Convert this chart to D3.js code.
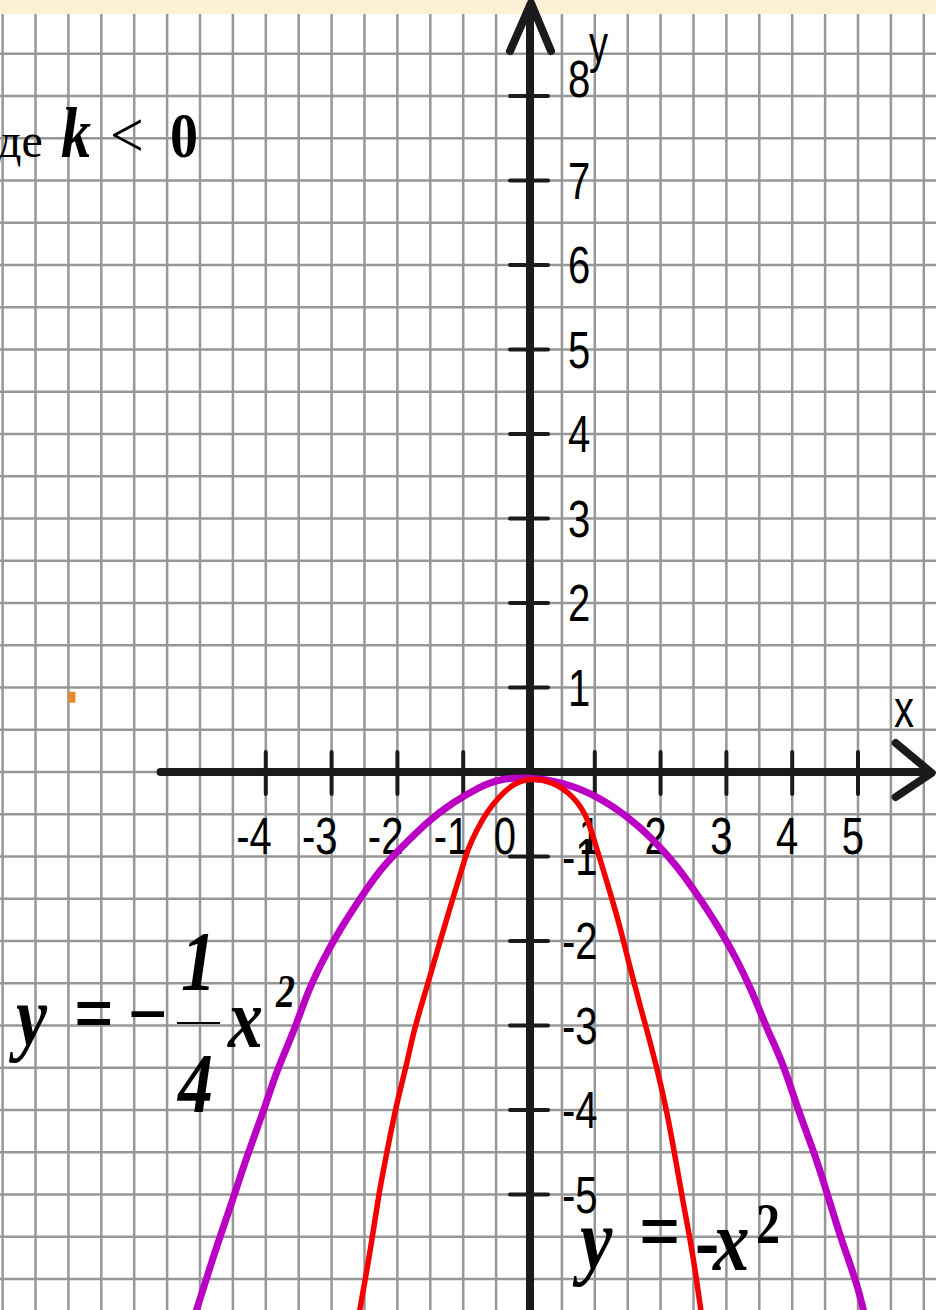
<!DOCTYPE html>
<html>
<head>
<meta charset="utf-8">
<script src="https://cdn.jsdelivr.net/npm/d3@7"></script>
<style>
  html, body { margin: 0; padding: 0; background: #fff; overflow: hidden; }
  svg { display: block; }
</style>
</head>
<body>
<script>
// tick values on the two axes (no tick mark at the origin)
const xTicks = [-4, -3, -2, -1, 1, 2, 3, 4, 5]
const xLabels = [-4, -3, -2, -1, 0, 1, 2, 3, 4, 5]
const yTicks = [-5, -4, -3, -2, -1, 1, 2, 3, 4, 5, 6, 7, 8]

// y = -1/4 x^2
const purpleX = [-5.05, -4.73, -4.50, -4.29, -4.04, -3.83, -3.56, -3.37, -3.13, -2.87, -2.57, -2.26, -1.96, -1.55, -1.16, -0.74, -0.44, 0,
  0.52, 1.03, 1.49, 1.88, 2.25, 2.60, 2.90, 3.16, 3.40, 3.62, 3.86, 4.07, 4.32, 4.53, 4.73, 4.98, 5.08]
const purpleY = [-6.36, -5.57, -5.06, -4.55, -4.03, -3.52, -3.05, -2.61, -2.22, -1.86, -1.50, -1.15, -0.91, -0.59, -0.36, -0.17, -0.08, -0.06,
  -0.12, -0.28, -0.52, -0.79, -1.11, -1.50, -1.86, -2.22, -2.61, -3.05, -3.44, -3.96, -4.47, -4.98, -5.50, -6.04, -6.36]

// y = -x^2
const redX = [-2.57, -2.39, -2.29, -2.16, -2.01, -1.85, -1.76, -1.55, -1.40, -1.25, -1.16, -1.02, -0.93, -0.79, -0.64, -0.44, -0.24, 0,
  0.36, 0.67, 0.88, 0.97, 1.08, 1.23, 1.38, 1.53, 1.69, 1.79, 1.95, 2.10, 2.22, 2.34, 2.48, 2.61]
const redY = [-6.36, -5.57, -5.02, -4.50, -3.91, -3.44, -3.08, -2.54, -2.13, -1.74, -1.50, -1.15, -0.91, -0.68, -0.47, -0.28, -0.14, -0.07,
  -0.11, -0.28, -0.52, -0.76, -1.03, -1.42, -1.82, -2.30, -2.77, -3.05, -3.52, -4.03, -4.55, -5.09, -5.65, -6.36]

// extent of the drawn axes
const xAxisExtent = [-5.6, 6.12]
const yAxisExtent = [-6.5, 9.1]
// stray orange dot
const dot = [-7.0, 0.95]

const width = 936
const height = 1310

const svg = d3.select('body').append('svg')
  .attr('width', width)
  .attr('height', height)

// one unit is 65.8 px across and 84.5 px up (the sheet is stretched)
const x = d3.scaleLinear().domain([0, 1]).range([529, 594.8])
const y = d3.scaleLinear().domain([0, 1]).range([772, 687.5])

svg.append('rect').attr('width', width).attr('height', height).attr('fill', '#fff')

// squared paper
const grid = svg.append('g').attr('stroke', '#979797').attr('stroke-width', 2.5)
grid.selectAll('.gv').data(d3.range(-8, 6.01, 0.5)).join('line')
  .attr('x1', d => x(d)).attr('x2', d => x(d))
  .attr('y1', 0).attr('y2', height)
grid.selectAll('.gh').data(d3.range(-6.5, 9.01, 0.5)).join('line')
  .attr('x1', 0).attr('x2', width)
  .attr('y1', d => y(d)).attr('y2', d => y(d))

// pale band at the top
svg.append('rect').attr('width', width).attr('height', 14).attr('fill', '#fdf1d5')

svg.append('rect')
  .attr('x', x(dot[0])).attr('y', y(dot[1]))
  .attr('width', 7).attr('height', 11)
  .attr('fill', '#e8892a')

// axes
const axes = svg.append('g')
  .attr('stroke', '#1b1b1b')
  .attr('stroke-linecap', 'round')
  .attr('fill', 'none')

axes.append('line')
  .attr('x1', x(xAxisExtent[0])).attr('x2', x(xAxisExtent[1]) - 3)
  .attr('y1', y(0)).attr('y2', y(0))
  .attr('stroke-width', 8)
axes.append('path')
  .attr('d', `M${x(xAxisExtent[1]) - 36},${y(0) - 29} L${x(xAxisExtent[1])},${y(0) + 1} L${x(xAxisExtent[1]) - 36},${y(0) + 25}`)
  .attr('stroke-width', 8).attr('stroke-linejoin', 'round')

axes.append('line')
  .attr('x1', x(0) + 1).attr('x2', x(0) + 1)
  .attr('y1', y(yAxisExtent[0])).attr('y2', y(yAxisExtent[1]) + 3)
  .attr('stroke-width', 8)
axes.append('path')
  .attr('d', `M${x(0) - 19},${y(yAxisExtent[1]) + 48} L${x(0) + 2},${y(yAxisExtent[1])} L${x(0) + 22},${y(yAxisExtent[1]) + 48}`)
  .attr('stroke-width', 8).attr('stroke-linejoin', 'round')

axes.selectAll('.xt').data(xTicks).join('line')
  .attr('x1', d => x(d)).attr('x2', d => x(d))
  .attr('y1', y(0) - 20).attr('y2', y(0) + 22)
  .attr('stroke-width', 4)
axes.selectAll('.yt').data(yTicks).join('line')
  .attr('x1', x(0) - 19).attr('x2', x(0) + 19)
  .attr('y1', d => y(d)).attr('y2', d => y(d))
  .attr('stroke-width', 4)

// stretched text helper: the original sheet was scaled up vertically
function label (px, py, str, opts) {
  const t = svg.append('text')
    .attr('transform', `translate(${px},${py}) scale(1,${opts.sy || 1})`)
    .attr('font-family', opts.family || '"Liberation Sans", Arial, sans-serif')
    .attr('font-size', opts.size)
    .attr('font-weight', opts.weight || 'normal')
    .attr('font-style', opts.style || 'normal')
    .attr('text-anchor', opts.anchor || 'start')
    .attr('fill', '#000')
    .text(str)
  return t
}

const tickFont = { size: 40, sy: 1.28 }
xLabels.forEach(v => {
  if (v > 0) label(x(v) - 5, y(0) + 82, String(v), Object.assign({ anchor: 'middle' }, tickFont))
  else if (v < 0) label(x(v) + 6, y(0) + 82, String(v), Object.assign({ anchor: 'end' }, tickFont))
  else label(x(v) - 13, y(0) + 82, String(v), Object.assign({ anchor: 'end' }, tickFont))
})
yTicks.forEach(v => {
  const top = v === yTicks[yTicks.length - 1]
  label(v > 0 ? x(0) + 39 : x(0) + 33, top ? y(v) + 1 : y(v) + 18, String(v), tickFont)
})

label(589, 62, 'y', { size: 38, sy: 1.4 })
label(894, 727, 'x', { size: 40, sy: 1.35 })

// curves (B-spline smooths out the reading noise)
const line = d3.line()
  .x(d => x(d[0]))
  .y(d => y(d[1]))
  .curve(d3.curveBasis)

svg.append('path')
  .attr('d', line(d3.zip(purpleX, purpleY)))
  .attr('fill', 'none')
  .attr('stroke', '#bb00c4')
  .attr('stroke-width', 7)
  .attr('stroke-linecap', 'round')

svg.append('path')
  .attr('d', line(d3.zip(redX, redY)))
  .attr('fill', 'none')
  .attr('stroke', '#f50000')
  .attr('stroke-width', 5.5)
  .attr('stroke-linecap', 'round')

// formulas and caption (Times-like serif)
const serif = '"Liberation Serif", "Times New Roman", serif'

label(-3, 157, 'де', { family: serif, size: 48 })
label(61, 157, 'k', { family: serif, size: 60, sy: 1.2, weight: 'bold', style: 'italic' })
label(110, 157, '<', { family: serif, size: 60, sy: 1.1 })
label(170, 157, '0', { family: serif, size: 56, sy: 1.15, weight: 'bold' })

const f = { family: serif, size: 70, sy: 1.2, weight: 'bold', style: 'italic' }
label(16, 1045, 'y', f)
label(74, 1042, '=', Object.assign({}, f, { style: 'normal' }))
label(128, 1042, '\u2212', Object.assign({}, f, { style: 'normal' }))
label(181, 990, '1', f)
svg.append('line')
  .attr('x1', 177).attr('x2', 220)
  .attr('y1', 1023).attr('y2', 1023)
  .attr('stroke', '#000').attr('stroke-width', 2)
label(178, 1112, '4', f)
label(228, 1047, 'x', f)
label(276, 1007, '2', Object.assign({}, f, { size: 38 }))

const g = { family: serif, size: 73, sy: 1.2, weight: 'bold', style: 'italic' }
label(580, 1268, 'y', g)
label(639, 1260, '=', Object.assign({}, g, { style: 'normal' }))
label(695, 1270, '-', Object.assign({}, g, { style: 'normal' }))
label(713, 1270, 'x', g)
label(756, 1243, '2', Object.assign({}, g, { size: 48, style: 'normal' }))
</script>
</body>
</html>
